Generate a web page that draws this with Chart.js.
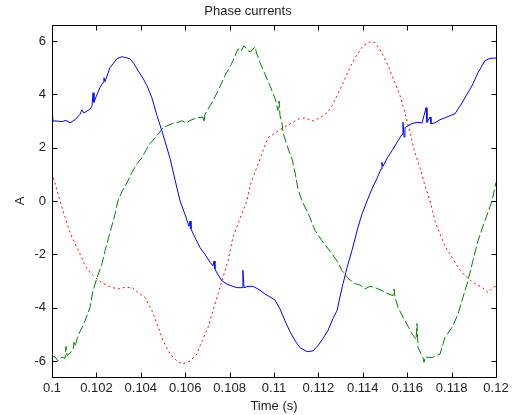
<!DOCTYPE html>
<html>
<head>
<meta charset="utf-8">
<title>Phase currents</title>
<script src="https://cdn.jsdelivr.net/npm/chart.js@4.4.1/dist/chart.umd.min.js"></script>
<style>
  html, body { margin: 0; padding: 0; background: #fff; }
  canvas { display: block; }
</style>
</head>
<body>
<canvas id="currents" width="517" height="415"></canvas>
<script>
// phase a (blue, solid)
const timeA = [0.1, 0.10005, 0.10018, 0.10045, 0.10063, 0.10081, 0.10104, 0.10126, 0.10135, 0.10144,
  0.10171, 0.1018, 0.10185, 0.10189, 0.10198, 0.10216, 0.1023, 0.10234, 0.10239, 0.10261,
  0.10293, 0.10315, 0.10333, 0.10351, 0.10369, 0.10387, 0.1041, 0.10428, 0.1045, 0.10473,
  0.10495, 0.10514, 0.10532, 0.10554, 0.10577, 0.10599, 0.10617, 0.10622, 0.10626, 0.10649,
  0.10667, 0.10689, 0.10712, 0.10725, 0.1073, 0.10734, 0.10743, 0.10766, 0.10793, 0.10815,
  0.10833, 0.10856, 0.1086, 0.10865, 0.10883, 0.10905, 0.10928, 0.10959, 0.10982, 0.11005,
  0.11027, 0.1105, 0.11072, 0.11095, 0.11117, 0.11149, 0.11176, 0.11198, 0.11221, 0.11243,
  0.11266, 0.11284, 0.11297, 0.11311, 0.11329, 0.11351, 0.11378, 0.11396, 0.11419, 0.11441,
  0.11464, 0.11482, 0.11486, 0.11491, 0.11509, 0.11532, 0.11554, 0.11577, 0.11581, 0.11586,
  0.1159, 0.11599, 0.11622, 0.11644, 0.11667, 0.11685, 0.11689, 0.11703, 0.11707, 0.11725,
  0.11748, 0.1177, 0.11793, 0.11815, 0.11847, 0.11869, 0.11892, 0.11919, 0.1195, 0.11973, 0.12];
const currentA = [3.4, 3.0, 3.0, 2.98, 3.02, 2.93, 3.05, 3.25, 3.42, 3.3,
  3.45, 3.55, 4.06, 3.7, 3.9, 4.25, 4.45, 4.62, 4.48, 5.0,
  5.34, 5.41, 5.38, 5.33, 5.15, 4.9, 4.6, 4.32, 3.87, 3.2,
  2.63, 2.1, 1.59, 0.8, 0.0, -0.5, -0.95, -0.75, -1.05, -1.45,
  -1.75, -2.0, -2.3, -2.43, -2.25, -2.55, -2.7, -3.0, -3.14, -3.2,
  -3.25, -3.25, -2.6, -3.25, -3.2, -3.2, -3.3, -3.48, -3.6, -3.72,
  -4.05, -4.5, -4.9, -5.24, -5.5, -5.65, -5.62, -5.43, -5.15, -4.86,
  -4.4, -4.11, -3.6, -3.1, -2.5, -1.86, -0.99, -0.5, 0.0, 0.45,
  0.85, 1.2, 1.45, 1.3, 1.6, 1.89, 2.2, 2.5, 2.95, 2.4,
  2.75, 2.8, 2.9, 2.95, 2.93, 3.5, 2.95, 3.15, 2.9, 2.93,
  3.05, 3.12, 3.2, 3.27, 3.68, 4.0, 4.32, 4.81, 5.26, 5.35, 5.36];

// phase b (green, dashed)
const timeB = [0.1, 0.10014, 0.10027, 0.10045, 0.10059, 0.10063, 0.10068, 0.10081, 0.10095, 0.10099,
  0.10104, 0.10117, 0.10135, 0.10149, 0.10171, 0.10185, 0.10203, 0.10225, 0.10239, 0.10261,
  0.10284, 0.10297, 0.10315, 0.10338, 0.1036, 0.10383, 0.10405, 0.10423, 0.10441, 0.10473,
  0.105, 0.10541, 0.10568, 0.10586, 0.10604, 0.10622, 0.10653, 0.1068, 0.10685, 0.10689,
  0.10712, 0.10725, 0.10748, 0.10779, 0.10811, 0.10838, 0.10851, 0.10865, 0.10883, 0.10896,
  0.10914, 0.10923, 0.10937, 0.10959, 0.10982, 0.11005, 0.11018, 0.11023, 0.11027, 0.11036,
  0.11041, 0.11059, 0.11081, 0.11095, 0.11108, 0.11126, 0.11144, 0.11162, 0.11185, 0.11216,
  0.11261, 0.11284, 0.11306, 0.11333, 0.11365, 0.11387, 0.1141, 0.11432, 0.11455, 0.11486,
  0.11514, 0.11536, 0.11541, 0.11545, 0.11559, 0.1159, 0.11622, 0.1164, 0.11644, 0.11649,
  0.11671, 0.11676, 0.1168, 0.11712, 0.1173, 0.11748, 0.1177, 0.11802, 0.11829, 0.11851,
  0.11874, 0.11896, 0.11919, 0.1195, 0.11982, 0.12];
const currentB = [-5.8, -5.85, -6.0, -5.85, -5.9, -5.45, -5.8, -5.7, -5.6, -5.3,
  -5.45, -5.05, -4.75, -4.49, -3.99, -3.36, -2.87, -2.36, -1.86, -1.19,
  -0.49, 0.0, 0.35, 0.69, 1.07, 1.4, 1.62, 1.9, 2.15, 2.45,
  2.75, 2.9, 2.95, 3.01, 2.92, 3.02, 3.12, 3.15, 2.95, 3.25,
  3.57, 3.76, 4.13, 4.7, 5.18, 5.71, 5.62, 5.82, 5.63, 5.6,
  5.78, 5.51, 5.19, 4.77, 4.32, 3.84, 3.4, 3.75, 3.2, 2.93,
  2.55, 2.07, 1.58, 1.06, 0.46, 0.0, -0.3, -0.62, -1.11, -1.49,
  -1.98, -2.25, -2.6, -2.9, -3.1, -3.15, -3.3, -3.2, -3.25, -3.36,
  -3.48, -3.55, -3.3, -3.6, -4.0, -4.49, -4.98, -5.2, -4.6, -5.5,
  -5.87, -6.05, -5.85, -5.87, -5.8, -5.74, -5.12, -4.74, -4.24, -3.62,
  -2.99, -2.24, -1.49, -0.74, 0.0, 0.7];

// phase c (red, dotted)
const timeC = [0.1, 0.10018, 0.10036, 0.10059, 0.10081, 0.10104, 0.10126, 0.10149, 0.10171, 0.10203,
  0.1023, 0.1027, 0.10297, 0.10329, 0.1036, 0.10387, 0.10419, 0.1045, 0.10473, 0.105,
  0.10532, 0.10568, 0.1059, 0.10622, 0.10653, 0.10676, 0.10703, 0.10725, 0.10748, 0.1077,
  0.10793, 0.10815, 0.10838, 0.1086, 0.10878, 0.10892, 0.10914, 0.10937, 0.10959, 0.10973,
  0.11005, 0.11041, 0.11081, 0.11108, 0.1114, 0.11176, 0.11207, 0.11239, 0.11261, 0.11288,
  0.11311, 0.11342, 0.11365, 0.11401, 0.11432, 0.11455, 0.11486, 0.11514, 0.11545, 0.11568,
  0.1159, 0.11613, 0.11635, 0.11658, 0.1168, 0.11703, 0.11725, 0.11748, 0.1177, 0.11802,
  0.11829, 0.1186, 0.11896, 0.11937, 0.11964, 0.11986, 0.12];
const currentC = [1.05, 0.55, 0.0, -0.62, -1.19, -1.6, -1.98, -2.43, -2.68, -2.92,
  -3.1, -3.24, -3.3, -3.24, -3.24, -3.43, -3.62, -4.11, -4.6, -5.24,
  -5.74, -6.05, -6.1, -6.0, -5.74, -5.24, -4.74, -4.11, -3.48, -2.87,
  -2.24, -1.36, -0.85, -0.36, 0.0, 0.57, 1.06, 1.58, 2.07, 2.37,
  2.55, 2.75, 2.93, 3.07, 3.12, 3.0, 3.12, 3.31, 3.57, 4.02,
  4.43, 5.0, 5.37, 5.82, 5.97, 5.94, 5.56, 5.07, 4.43, 3.95,
  3.31, 2.55, 1.8, 1.25, 0.57, 0.0, -0.74, -1.24, -1.69, -2.11,
  -2.49, -2.8, -3.05, -3.24, -3.43, -3.24, -3.2];

const xTicks = [0.1, 0.102, 0.104, 0.106, 0.108, 0.11, 0.112, 0.114, 0.116, 0.118, 0.12];
const yTicks = [-6, -4, -2, 0, 2, 4, 6];

const toPoints = (ts, vs) => ts.map((t, i) => ({ x: t, y: vs[i] }));
const font = { family: "'Liberation Sans', Arial, sans-serif", size: 13 };

// axes frame with inward tick marks on all four sides
const frame = {
  id: 'frame',
  afterDraw(chart) {
    const { ctx, chartArea: a, scales } = chart;
    const L = Math.round(a.left) + 0.5, R = Math.round(a.right) + 0.5;
    const T = Math.round(a.top) + 0.5, B = Math.round(a.bottom) + 0.5;
    const len = 5;
    ctx.save();
    ctx.strokeStyle = '#000';
    ctx.lineWidth = 1;
    ctx.beginPath();
    ctx.rect(L, T, R - L, B - T);
    scales.x.ticks.forEach(t => {
      const px = Math.round(scales.x.getPixelForValue(t.value)) + 0.5;
      ctx.moveTo(px, B); ctx.lineTo(px, B - len);
      ctx.moveTo(px, T); ctx.lineTo(px, T + len);
    });
    scales.y.ticks.forEach(t => {
      const py = Math.round(scales.y.getPixelForValue(t.value)) + 0.5;
      ctx.moveTo(L, py); ctx.lineTo(L + len, py);
      ctx.moveTo(R, py); ctx.lineTo(R - len, py);
    });
    ctx.stroke();
    ctx.restore();
  }
};

new Chart(document.getElementById('currents'), {
  type: 'line',
  data: {
    datasets: [
      { label: 'ia', data: toPoints(timeA, currentA), borderColor: '#0000ff', borderWidth: 1 },
      { label: 'ib', data: toPoints(timeB, currentB), borderColor: '#008000', borderWidth: 1, borderDash: [9, 3] },
      { label: 'ic', data: toPoints(timeC, currentC), borderColor: '#ff0000', borderWidth: 1, borderDash: [2, 3] }
    ]
  },
  options: {
    responsive: false,
    animation: false,
    events: [],
    elements: { point: { radius: 0 }, line: { tension: 0 } },
    layout: { padding: { left: 0, right: 21, top: 0, bottom: 0 } },
    plugins: {
      legend: { display: false },
      tooltip: { enabled: false },
      title: {
        display: true,
        text: 'Phase currents',
        color: '#222',
        font: { ...font, weight: 'normal' },
        padding: { top: 4, bottom: 5.4 }
      }
    },
    scales: {
      x: {
        type: 'linear',
        min: 0.1,
        max: 0.12,
        grid: { display: false, drawTicks: false },
        border: { display: false },
        afterBuildTicks: s => { s.ticks = xTicks.map(v => ({ value: v })); },
        afterFit: s => { s.height = 38; },
        ticks: {
          color: '#222',
          font,
          padding: 4,
          maxRotation: 0,
          autoSkip: false,
          callback: v => String(parseFloat(v.toFixed(3)))
        },
        title: { display: true, text: 'Time (s)', color: '#222', font, padding: { top: 0, bottom: 1.2 } }
      },
      y: {
        min: -6.6,
        max: 6.6,
        grid: { display: false, drawTicks: false },
        border: { display: false },
        afterBuildTicks: s => { s.ticks = yTicks.map(v => ({ value: v })); },
        afterFit: s => { s.width = 52; },
        ticks: { color: '#222', font, padding: 6, callback: v => String(v) },
        title: { display: true, text: 'A', color: '#222', font, padding: { top: 13, bottom: 0 } }
      }
    }
  },
  plugins: [frame]
});
</script>
</body>
</html>
